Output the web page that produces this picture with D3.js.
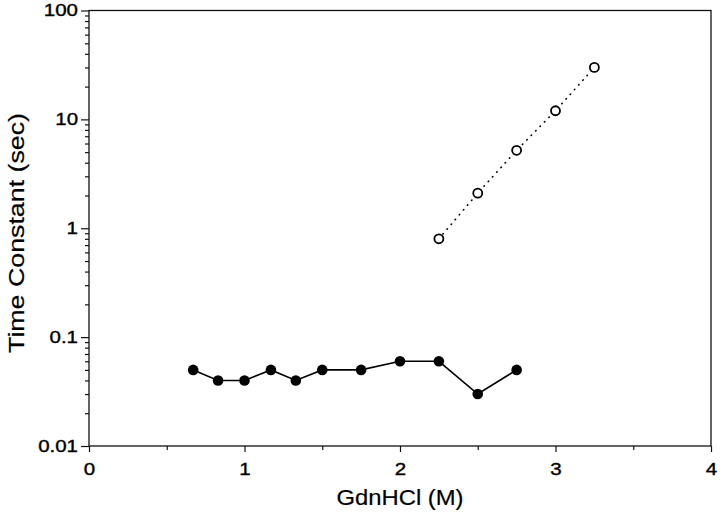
<!DOCTYPE html>
<html>
<head>
<meta charset="utf-8">
<script src="https://cdn.jsdelivr.net/npm/d3@7"></script>
<style>
  html, body { margin: 0; padding: 0; background: #fff; }
  text { font-family: "Liberation Sans", Arial, Helvetica, sans-serif; fill: #000; }
</style>
</head>
<body>
<svg id="chart" width="720" height="525"></svg>
<script>
// Data
const fastX = [0.67, 0.83, 1.0, 1.17, 1.33, 1.5, 1.75, 2.0, 2.25, 2.5, 2.75];
const fastY = [0.05, 0.04, 0.04, 0.05, 0.04, 0.05, 0.05, 0.06, 0.06, 0.03, 0.05];
const slowX = [2.25, 2.5, 2.75, 3.0, 3.25];
const slowY = [0.8, 2.1, 5.2, 12, 30];
const xTicks = [0, 1, 2, 3, 4];
const xMinorTicks = [0.5, 1.5, 2.5, 3.5];
const yTicks = [0.01, 0.1, 1, 10, 100];
const yTickLabels = ["0.01", "0.1", "1", "10", "100"];
const xTitle = "GdnHCl (M)";
const yTitle = "Time Constant (sec)";

const svg = d3.select("#chart");
const mLeft = 89, mRight = 711, mTop = 10.5, mBottom = 446;
const wide = 1.28; // the reference font is set wide

const x = d3.scaleLinear().domain([0, 4]).range([mLeft, mRight]);
const y = d3.scaleLog().domain([0.01, 100]).range([mBottom, mTop]);

// minor y ticks
const yMinor = [];
for (let d = 0.01; d < 100; d *= 10) {
  for (let k = 2; k <= 9; k++) yMinor.push(+(d * k).toPrecision(3));
}

// frame
svg.append("rect")
  .attr("x", mLeft).attr("y", mTop)
  .attr("width", mRight - mLeft).attr("height", mBottom - mTop)
  .attr("fill", "none").attr("stroke", "#111").attr("stroke-width", 1.3);

// x axis
const gx = svg.append("g").attr("transform", `translate(0,${mBottom})`);
gx.append("g").call(d3.axisBottom(x).tickValues(xTicks).tickFormat(d3.format("d")).tickSize(6).tickPadding(12));
gx.append("g").call(d3.axisBottom(x).tickValues(xMinorTicks).tickFormat("").tickSize(4));
gx.selectAll(".domain").remove();

// y axis
const gy = svg.append("g").attr("transform", `translate(${mLeft},0)`);
gy.append("g").call(d3.axisLeft(y).tickValues(yTicks)
  .tickFormat((d, i) => yTickLabels[i]).tickSize(8).tickPadding(3));
gy.append("g").call(d3.axisLeft(y).tickValues(yMinor).tickFormat("").tickSize(4));
gy.selectAll(".domain").remove();
svg.selectAll(".tick line").attr("stroke", "#111").attr("stroke-width", 1.2);
svg.selectAll(".tick text")
  .attr("font-size", 16)
  .attr("stroke", "#000").attr("stroke-width", 0.35)
  .style("font-family", '"Liberation Sans", Arial, sans-serif')
  .each(function() {
    const L = this.getComputedTextLength();
    d3.select(this).attr("textLength", L * wide).attr("lengthAdjust", "spacingAndGlyphs");
  });

// titles
svg.append("text").attr("x", 400).attr("y", 505)
  .attr("text-anchor", "middle").attr("font-size", 22)
  .attr("stroke", "#000").attr("stroke-width", 0.2)
  .attr("textLength", 127).attr("lengthAdjust", "spacingAndGlyphs").text(xTitle);
svg.append("text").attr("transform", `translate(23.5,233) rotate(-90)`)
  .attr("text-anchor", "middle").attr("font-size", 22)
  .attr("stroke", "#000").attr("stroke-width", 0.2)
  .attr("textLength", 240).attr("lengthAdjust", "spacingAndGlyphs").text(yTitle);

// slow series (dotted line, open circles)
const slow = slowX.map((v, i) => [v, slowY[i]]);
svg.append("path").datum(slow)
  .attr("d", d3.line().x(d => x(d[0])).y(d => y(d[1])))
  .attr("fill", "none").attr("stroke", "#000").attr("stroke-width", 1.6)
  .attr("stroke-linecap", "round").attr("stroke-dasharray", "0.5,5.8");
svg.selectAll("circle.slow").data(slow).enter().append("circle").attr("class", "slow")
  .attr("cx", d => x(d[0])).attr("cy", d => y(d[1])).attr("r", 4.5)
  .attr("fill", "#fff").attr("stroke", "#000").attr("stroke-width", 1.8);

// fast series (solid line, filled circles)
const fast = fastX.map((v, i) => [v, fastY[i]]);
svg.append("path").datum(fast)
  .attr("d", d3.line().x(d => x(d[0])).y(d => y(d[1])))
  .attr("fill", "none").attr("stroke", "#000").attr("stroke-width", 1.6);
svg.selectAll("circle.fast").data(fast).enter().append("circle").attr("class", "fast")
  .attr("cx", d => x(d[0])).attr("cy", d => y(d[1])).attr("r", 5.3)
  .attr("fill", "#000");
</script>
</body>
</html>
